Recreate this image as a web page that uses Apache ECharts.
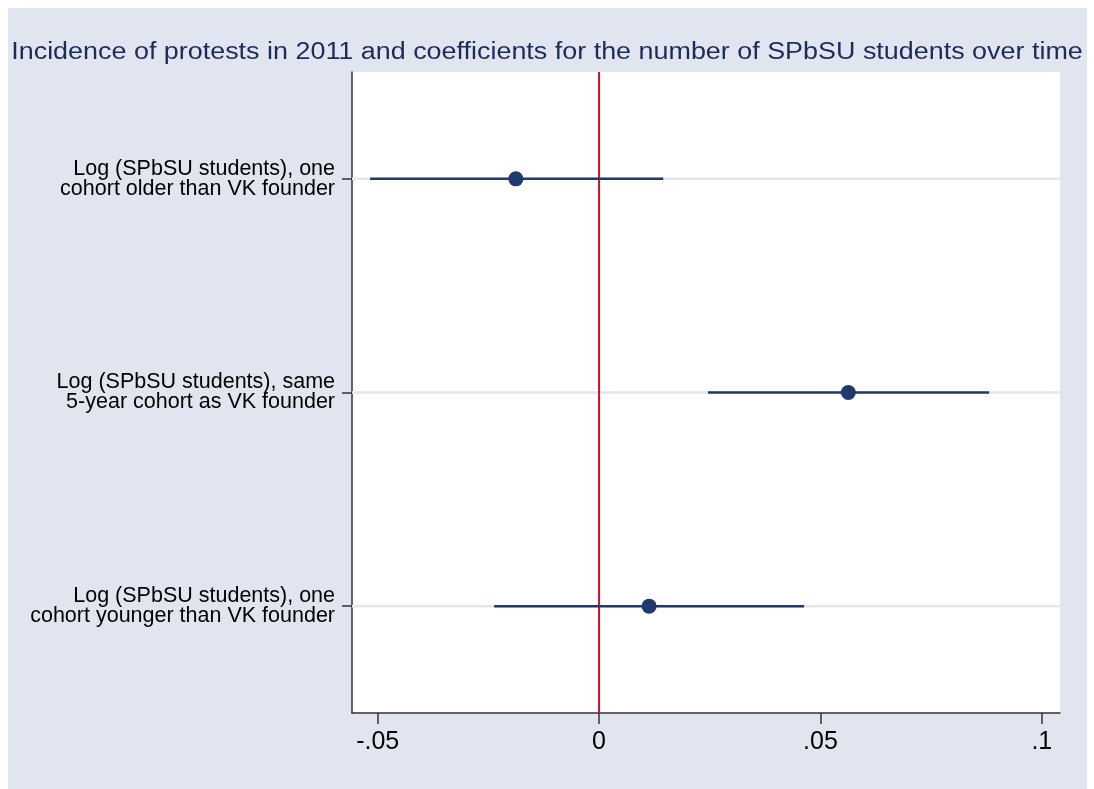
<!DOCTYPE html>
<html>
<head>
<meta charset="utf-8">
<script src="https://cdn.jsdelivr.net/npm/echarts@6/dist/echarts.min.js"></script>
<style>
  html, body { margin: 0; padding: 0; background: #ffffff; }
  #chart { width: 1094px; height: 789px; }
</style>
</head>
<body>
<div id="chart"></div>
<script>
const titleText = 'Incidence of protests in 2011 and coefficients for the number of SPbSU students over time';
const categories = [
  'Log (SPbSU students), one\ncohort older than VK founder',
  'Log (SPbSU students), same\n5-year cohort as VK founder',
  'Log (SPbSU students), one\ncohort younger than VK founder'
];
const estimates = [-0.0188, 0.0563, 0.0113];
const ciLow = [-0.0517, 0.0246, -0.0237];
const ciHigh = [0.0145, 0.0881, 0.0463];
const xTickValues = [-0.05, 0, 0.05, 0.1];
const xTickLabels = ['-.05', '0', '.05', '.1'];
const referenceValue = 0;

const FONT = '"Liberation Sans", Arial, Helvetica, sans-serif';
const navy = '#1f3a6c';

const chart = echarts.init(document.getElementById('chart'));

const ciData = categories.map((c, i) => [ciLow[i], ciHigh[i], i]);
const pointData = categories.map((c, i) => [estimates[i], i]);
const gridData = categories.map((c, i) => [i]);

chart.setOption({
  backgroundColor: '#ffffff',
  animation: false,
  graphic: [
    {
      type: 'rect', z: -10, silent: true,
      shape: { x: 8, y: 8, width: 1079, height: 781 },
      style: { fill: '#e1e5f0' }
    },
    {
      type: 'text', z: 10, silent: true,
      x: 547, y: 53,
      scaleX: 1.17, scaleY: 1,
      originX: 0, originY: 0,
      style: {
        text: titleText,
        font: 'normal 23px "Liberation Sans", Arial, Helvetica, sans-serif',
        fill: '#1c2b58',
        align: 'center',
        verticalAlign: 'middle'
      }
    }
  ],
  grid: {
    left: 352, right: 34, top: 72, bottom: 76,
    show: true, backgroundColor: '#ffffff', borderWidth: 0
  },
  xAxis: {
    type: 'value',
    min: -0.0558,
    max: 0.1041,
    splitLine: { show: false },
    axisLine: { show: true, onZero: false, lineStyle: { color: '#333333', width: 1.5 } },
    axisTick: { show: true, length: 11, customValues: xTickValues, lineStyle: { color: '#333333', width: 1.5 } },
    axisLabel: {
      customValues: xTickValues,
      margin: 17,
      fontFamily: FONT, fontSize: 25, color: '#000000',
      formatter: v => {
        const idx = xTickValues.findIndex(t => Math.abs(t - v) < 1e-9);
        return idx >= 0 ? xTickLabels[idx] : '';
      }
    }
  },
  yAxis: {
    type: 'category',
    data: categories,
    inverse: true,
    splitLine: { show: false },
    axisLine: { show: true, onZero: false, lineStyle: { color: '#333333', width: 1.5 } },
    axisTick: { show: true, alignWithLabel: true, length: 10, lineStyle: { color: '#333333', width: 1.5 } },
    axisLabel: {
      margin: 17,
      fontFamily: FONT, fontSize: 21.5, lineHeight: 20, color: '#000000', align: 'right'
    }
  },
  series: [
    {
      type: 'custom',
      z: 1,
      silent: true,
      data: gridData,
      encode: { y: 0 },
      renderItem: (params, api) => {
        const cs = params.coordSys;
        const y = api.coord([0, api.value(0)])[1];
        return {
          type: 'line',
          shape: { x1: cs.x, y1: y, x2: cs.x + cs.width, y2: y },
          style: { stroke: '#e1e6ef', lineWidth: 2.5 }
        };
      }
    },
    {
      type: 'custom',
      z: 2,
      silent: true,
      data: [[referenceValue]],
      encode: { x: 0 },
      renderItem: (params, api) => {
        const cs = params.coordSys;
        const x = api.coord([api.value(0), 0])[0];
        return {
          type: 'line',
          shape: { x1: x, y1: cs.y, x2: x, y2: cs.y + cs.height },
          style: { stroke: '#c8102e', lineWidth: 2 }
        };
      }
    },
    {
      type: 'custom',
      z: 3,
      silent: true,
      data: ciData,
      encode: { x: [0, 1], y: 2 },
      renderItem: (params, api) => {
        const p1 = api.coord([api.value(0), api.value(2)]);
        const p2 = api.coord([api.value(1), api.value(2)]);
        return {
          type: 'line',
          shape: { x1: p1[0], y1: p1[1], x2: p2[0], y2: p2[1] },
          style: { stroke: navy, lineWidth: 2.5 }
        };
      }
    },
    {
      type: 'scatter',
      z: 4,
      silent: true,
      data: pointData,
      symbol: 'circle',
      symbolSize: 15,
      itemStyle: { color: navy, opacity: 1 }
    }
  ]
});
</script>
</body>
</html>
